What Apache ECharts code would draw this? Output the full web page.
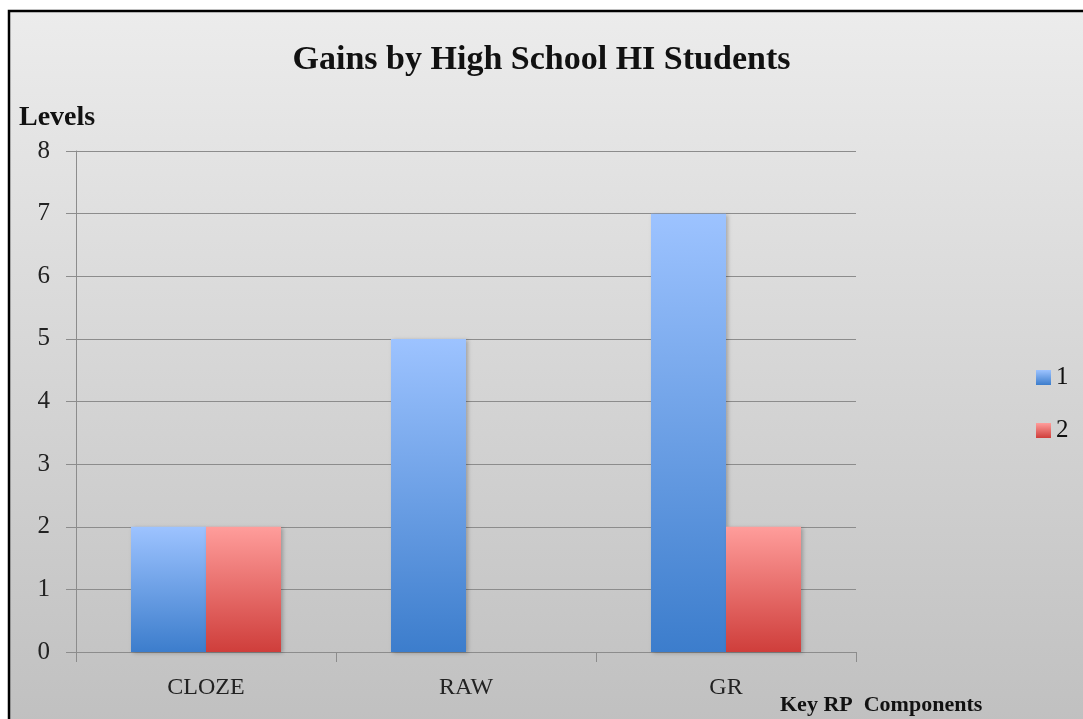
<!DOCTYPE html>
<html>
<head>
<meta charset="utf-8">
<script src="https://cdn.jsdelivr.net/npm/echarts@6/dist/echarts.min.js"></script>
<style>
  html, body { margin: 0; padding: 0; background: #fff; }
  #chart { width: 1083px; height: 719px; }
</style>
</head>
<body>
<div id="chart"></div>
<script>
var categories = ['CLOZE', 'RAW', 'GR'];
var seriesNames = ['1', '2'];
var levels1 = [2, 5, 7];
var levels2 = [2, 0, 2];
var yTicks = [0, 1, 2, 3, 4, 5, 6, 7, 8];

var serif = '"Liberation Serif", "DejaVu Serif", serif';

function vgrad(top, bottom) {
  return new echarts.graphic.LinearGradient(0, 0, 0, 1, [
    { offset: 0, color: top },
    { offset: 1, color: bottom }
  ]);
}

var chart = echarts.init(document.getElementById('chart'));
chart.setOption({
  animation: false,
  backgroundColor: '#fff',
  graphic: [{
    type: 'rect',
    z: -10,
    shape: { x: 9, y: 11, width: 1100, height: 730 },
    style: {
      fill: vgrad('#ececec', '#bfbfbf'),
      stroke: '#000',
      lineWidth: 2.5
    }
  }],
  title: [{
    text: 'Gains by High School HI Students',
    left: 'center',
    top: 38,
    textStyle: { fontFamily: serif, fontWeight: 'bold', fontSize: 34, color: '#111' }
  }, {
    text: 'Levels',
    left: 14,
    top: 99,
    textStyle: { fontFamily: serif, fontWeight: 'bold', fontSize: 28, color: '#111' }
  }, {
    text: 'Key RP  Components',
    left: 775,
    top: 689,
    textStyle: { fontFamily: serif, fontWeight: 'bold', fontSize: 22, color: '#111' }
  }],
  legend: {
    orient: 'vertical',
    left: 1031,
    top: 360,
    icon: 'rect',
    itemWidth: 15,
    itemHeight: 15,
    itemGap: 28,
    textStyle: { fontFamily: serif, fontSize: 25, color: '#111' },
    data: seriesNames
  },
  grid: { left: 76, right: 227, top: 151, bottom: 67 },
  xAxis: {
    type: 'category',
    data: categories,
    axisLine: { lineStyle: { color: '#8c8c8c', width: 1 } },
    axisTick: { show: true, length: 10, lineStyle: { color: '#8c8c8c' } },
    axisLabel: { margin: 24, fontFamily: serif, fontSize: 24, color: '#222' }
  },
  yAxis: {
    type: 'value',
    min: yTicks[0],
    max: yTicks[yTicks.length - 1],
    interval: 1,
    axisLine: { show: true, lineStyle: { color: '#8c8c8c', width: 1 } },
    axisTick: { show: true, length: 10, lineStyle: { color: '#8c8c8c' } },
    axisLabel: { margin: 26, fontFamily: serif, fontSize: 25, color: '#222' },
    splitLine: { lineStyle: { color: '#8c8c8c', width: 1 } }
  },
  series: [{
    name: seriesNames[0],
    type: 'bar',
    data: levels1,
    barWidth: 75,
    barGap: '0%',
    itemStyle: {
      color: vgrad('#9dc3ff', '#3c7dcc'),
      shadowBlur: 4,
      shadowOffsetX: 2,
      shadowOffsetY: 1,
      shadowColor: 'rgba(0,0,0,0.25)'
    }
  }, {
    name: seriesNames[1],
    type: 'bar',
    data: levels2,
    barWidth: 75,
    barGap: '0%',
    itemStyle: {
      color: vgrad('#ff9d9b', '#cf3e3b'),
      shadowBlur: 4,
      shadowOffsetX: 2,
      shadowOffsetY: 1,
      shadowColor: 'rgba(0,0,0,0.25)'
    }
  }]
});
</script>
</body>
</html>
